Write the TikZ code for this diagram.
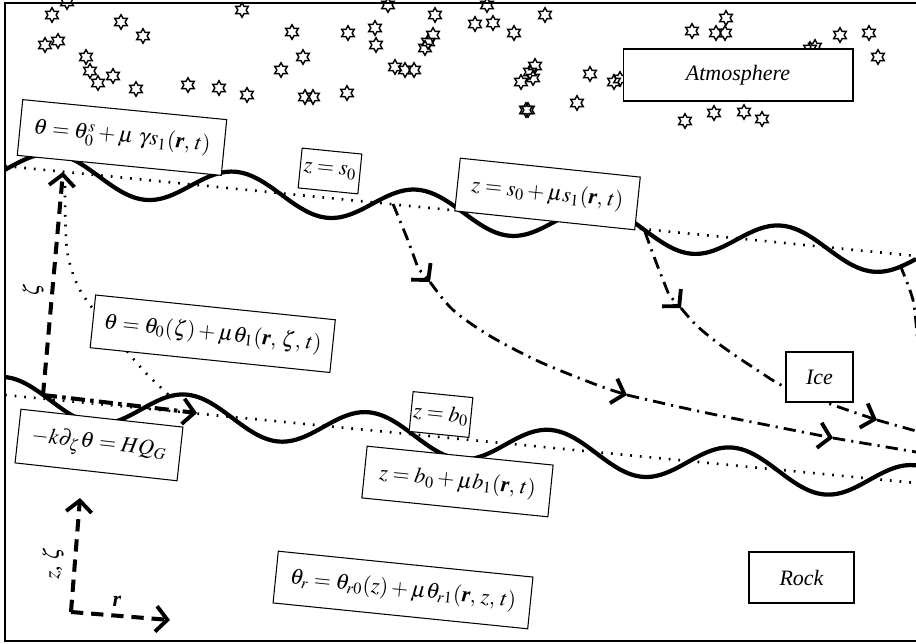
\documentclass[tikz,border=0pt]{standalone}
\usepackage{mathptmx}
\usepackage{fontspec}
\setmainfont{Liberation Serif}
\usetikzlibrary{arrows.meta,shapes.geometric}
\newcommand{\rv}{\mbox{\bfseries\itshape r}}
\tikzset{
 eqbox/.style={draw,fill=white,line width=0.6pt,inner sep=0pt,font=\fontsize{12.5}{14}\selectfont},
 wave/.style={line width=2.4pt},
 mean/.style={line width=1.5pt,dash pattern=on 1pt off 4.5pt},
 flow/.style={line width=1.6pt,dash pattern=on 7pt off 3.5pt on 1.2pt off 3.5pt},
 flowthick/.style={line width=2.3pt,dash pattern=on 8pt off 3pt on 2pt off 3pt},
 axisline/.style={line width=2.3pt,dash pattern=on 7pt off 4.5pt},
 vtip/.tip={Straight Barb[length=6.5pt,width=14.5pt,line width=2.2pt]},
 twinkle/.style={star,star points=6,star point ratio=1.75,draw,line width=0.8pt,minimum size=0.29cm,inner sep=0pt},
}
\begin{document}
\begin{tikzpicture}[x=0.02cm,y=-0.02cm]
\useasboundingbox (0,0) rectangle (916,644);
% frame, open on the right
\draw[line width=0.8pt] (916,3) -- (5,3) -- (5,641) -- (916,641);

% stars in the atmosphere
\foreach \sx/\sy in {67/2,52/15,45/45,58/41,86/57,90/71,98/83,113/76,121/22,143/36,136/89,
  188/85,219/88,247/95,242/10,292/32,303/57,281/70,305/97,313/97,348/33,347/93,375/28,376/45,
  388/5,395/67,405/70,414/70,435/15,433/35,428/42,425/48,487/5,475/24,493/23,514/33,545/15,
  535/66,530/72,533/78,521/82,590/74,614/82,620/79,526/110,528/110,577/103,692/31,716/33,
  725/33,726/18,810/49,815/47,840/35,869/33,878/57,685/121,714/113,744/112,762/119}
  \node[twinkle] at (\sx,\sy) {};

% mean surface and bed
\draw[mean] (5,166) -- (916,256);
\draw[mean] (5,395) -- (916,483);
% perturbed surface and bed (wavelength 182)
\draw[wave] plot[domain=5:916,samples=140,smooth] ({\x},{167.5+0.0987*(\x-5)+18.5*cos(1.978*(\x-145))});
\draw[wave] plot[domain=5:916,samples=140,smooth] ({\x},{396+0.097*(\x-5)+19*cos(1.978*(\x-278))});

% local coordinate zeta
\coordinate (zb) at (43,395);
\coordinate (zt) at (63,172);
\coordinate (rb) at (197,413);
\draw[axisline,-vtip] (zb) -- (zt);
\draw[flowthick,-vtip] (zb) -- (rb);
\node[rotate=90,font=\fontsize{12.5}{14}\selectfont] (zlab) at (33,290) {$\zeta$};
\coordinate (dc0) at (65,186);
\coordinate (dc1) at (172,398);
\draw[mean] plot[smooth] coordinates {(dc0) (67,250) (80,290) (110,330) (143,370) (dc1)};

% flow lines
\coordinate (fa0) at (393,204);
\coordinate (fa1) at (430,282);
\coordinate (fa2) at (627,395);
\coordinate (fa3) at (833,438);
\coordinate (fa4) at (916,452);
\draw[flow,-vtip] plot[smooth] coordinates {(fa0) (407,238) (418,268)} -- (fa1);
\draw[flow,-vtip] plot[smooth] coordinates {(fa1) (453,310) (490,336) (540,362) (597,385) (fa2)};
\draw[flow,-vtip] plot[smooth] coordinates {(fa2) (707,413) (fa3)};
\draw[flow] (fa3) -- (fa4);
\coordinate (fb0) at (645,232);
\coordinate (fb1) at (681,308);
\coordinate (fb2) at (877,420);
\coordinate (fb3) at (916,431);
\draw[flow,-vtip] plot[smooth] coordinates {(fb0) (656,262) (669,295)} -- (fb1);
\draw[flow,-vtip] plot[smooth] coordinates {(fb1) (697,326) (723,347) (757,370) (785,387) (833,405) (fb2)};
\draw[flow] (fb2) -- (fb3);
\coordinate (fc0) at (900,265);
\coordinate (fc1) at (917,336);
\draw[flow] plot[smooth] coordinates {(fc0) (913,300) (fc1)};

% r, z axes
\coordinate (o) at (71,612);
\coordinate (ztip) at (80,498);
\coordinate (rtip) at (170,620);
\draw[axisline,-vtip] (o) -- (ztip);
\draw[axisline,-vtip] (o) -- (rtip);
\node[rotate=90,font=\fontsize{12.5}{14}\selectfont] (zzlab) at (53,563) {$z$, $\zeta$};
\node[font=\fontsize{12.5}{14}\selectfont] (rlab) at (117,601) {$\rv$};

% boxes
\node[eqbox,rotate=-5.6,minimum width=4.1cm,minimum height=1.12cm] (surf) at (122,137.5) {$\theta=\theta_0^s+\mu\ \gamma s_1(\rv,\,t)$};
\node[eqbox,rotate=-5.7,minimum width=1.2cm,minimum height=0.8cm] (s0) at (330,171) {$z=s_0$};
\node[eqbox,rotate=-6,minimum width=3.62cm,minimum height=1.06cm] (s1) at (547.5,194) {$z=s_0+\mu s_1(\rv,\,t)$};
\node[eqbox,rotate=-5.9,minimum width=4.82cm,minimum height=1.06cm] (th) at (212.75,333.75) {$\theta=\theta_0(\zeta)+\mu\theta_1(\rv,\,\zeta,\,t)$};
\node[eqbox,rotate=-6.3,minimum width=3.26cm,minimum height=1.08cm] (flux) at (99,445) {$-k\partial_\zeta\theta=HQ_G$};
\node[eqbox,rotate=-5.7,minimum width=1.2cm,minimum height=0.8cm] (b0) at (441,414.5) {$z=b_0$};
\node[eqbox,rotate=-5.8,minimum width=3.74cm,minimum height=1.04cm] (b1) at (457.5,481.5) {$z=b_0+\mu b_1(\rv,\,t)$};
\node[eqbox,rotate=-5.8,minimum width=5.12cm,minimum height=1.04cm] (thr) at (403,590) {$\theta_r=\theta_{r0}(z)+\mu\theta_{r1}(\rv,\,z,\,t)$};
\node[eqbox,minimum width=1.34cm,minimum height=1cm] (ice) at (819.5,377) {\itshape Ice};
\node[eqbox,minimum width=2.1cm,minimum height=1.02cm] (rock) at (801.5,577.5) {\itshape Rock};
\node[eqbox,minimum width=4.6cm,minimum height=1.04cm] (atm) at (738,75) {\itshape Atmosphere};
\end{tikzpicture}
\end{document}
